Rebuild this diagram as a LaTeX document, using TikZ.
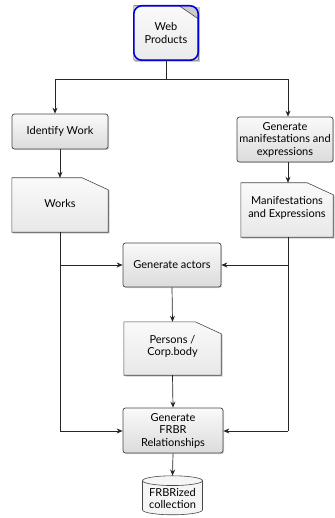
\documentclass[tikz,border=0pt]{standalone}
\usepackage{fontspec}
\setmainfont{Lato}
\usetikzlibrary{arrows.meta,shapes.geometric,shadows}
\begin{document}
\begin{tikzpicture}[x=1pt,y=-1pt,
  font=\fontsize{11}{12.5}\selectfont,
  boxfill/.style={top color=gray!4,bottom color=gray!28},
  proc/.style={draw=gray!55!black,line width=0.7pt,rounded corners=2.5pt,boxfill,
    align=center,inner sep=1pt,
    drop shadow={shadow xshift=1pt,shadow yshift=-1pt,opacity=0.35}},
  doclabel/.style={align=center,inner sep=1pt},
  docline/.style={draw=gray!55!black,line width=0.6pt,fill=gray!10},
  conn/.style={line width=0.7pt,draw=black!85},
  arr/.style={conn,-{Stealth[length=6pt,width=5pt,inset=2pt]}}]
\useasboundingbox (0,0) rectangle (334,518);

% Web Products (document under a blue rounded frame)
\node[doclabel,minimum width=64pt,minimum height=54pt] (web) at (166,33) {};
\fill[gray!40] ([xshift=1.5pt,yshift=-1.5pt]web.south west) rectangle ([xshift=1.5pt,yshift=-1.5pt]web.north east);
\path[top color=gray!4,bottom color=gray!16] (web.south west) -- (web.north west) -- ([xshift=-19pt]web.north east)
  -- ([yshift=-13pt]web.north east) -- (web.south east) -- cycle;
\draw[gray!55!black,line width=0.6pt] (web.south west) -- (web.north west) -- ([xshift=-19pt]web.north east)
  -- ([yshift=-13pt]web.north east) -- (web.south east) -- cycle;
\draw[blue!85!black,line width=1.6pt,rounded corners=8pt] (web.south west) rectangle (web.north east);
\node[doclabel] at (web) {Web\\Products};

% process boxes
\node[proc,minimum width=96pt,minimum height=35pt] (idw) at (60,131.5) {Identify Work};
\node[proc,minimum width=96pt,minimum height=45pt] (gme) at (285,139.5) {Generate\\manifestations and\\expressions};
\node[proc,minimum width=98pt,minimum height=44pt] (act) at (172,265) {Generate actors};
\node[proc,minimum width=100pt,minimum height=45pt] (frbr) at (173,430.5) {Generate\\FRBR\\Relationships};

% documents
\node[doclabel,minimum width=96pt,minimum height=54pt] (works) at (60,205) {};
\node[doclabel,minimum width=92pt,minimum height=54pt] (manex) at (287,210) {};
\node[doclabel,minimum width=97pt,minimum height=53pt] (pers) at (172.5,348.5) {};
\foreach \n/\t in {works/Works,manex/{Manifestations\\and Expressions},pers/{Persons /\\Corp.body}}{
  \fill[gray!40] ([xshift=1.5pt,yshift=-1.5pt]\n.south west) -- ([xshift=1.5pt,yshift=-1.5pt]\n.north west)
    -- ([xshift=-25pt,yshift=-1.5pt]\n.north east) -- ([xshift=1.5pt,yshift=-13pt]\n.north east)
    -- ([xshift=1.5pt,yshift=-1.5pt]\n.south east) -- cycle;
  \path[top color=gray!4,bottom color=gray!18] (\n.south west) -- (\n.north west) -- ([xshift=-26pt]\n.north east)
    -- ([yshift=-12pt]\n.north east) -- (\n.south east) -- cycle;
  \draw[gray!55!black,line width=0.6pt] (\n.south west) -- (\n.north west) -- ([xshift=-26pt]\n.north east)
    -- ([yshift=-12pt]\n.north east) -- (\n.south east) -- cycle;
  \node[doclabel] at ([yshift=2pt]\n.center) {\t};
}

% cylinder
\node[cylinder,shape border rotate=90,aspect=0.2,draw=gray!55!black,line width=0.6pt,
  fill=gray!8,minimum width=60pt,minimum height=39pt,align=center,inner sep=1pt] (coll) at (172.5,498.5) {FRBRized\\collection};

% connectors
\coordinate (j) at (166,79);
\coordinate (jl) at (55,79);
\coordinate (jr) at (288,79);
\draw[conn] (web.south) -- (j);
\draw[conn] (jl) -- (jr);
\draw[arr] (jl) -- (jl |- idw.north);
\draw[arr] (jr) -- (jr |- gme.north);
\draw[arr] (idw.south -| 60,0) -- (works.north -| 60,0);
\draw[arr] (gme.south -| 288,0) -- (manex.north -| 288,0);

\coordinate (wl) at (60,265);
\coordinate (wb) at (60,431);
\coordinate (mr) at (288,265);
\coordinate (mb) at (288,431);
\draw[conn] (works.south -| 60,0) -- (wb);
\draw[arr] (wl) -- (act.west);
\draw[arr] (wb) -- (frbr.west |- wb);
\draw[conn] (manex.south -| 288,0) -- (mb);
\draw[arr] (mr) -- (act.east);
\draw[arr] (mb) -- (frbr.east |- mb);
\draw[arr] (act.south) -- (pers.north);
\draw[arr] (pers.south) -- (frbr.north);
\draw[arr] (frbr.south) -- (coll.top);
\end{tikzpicture}
\end{document}
